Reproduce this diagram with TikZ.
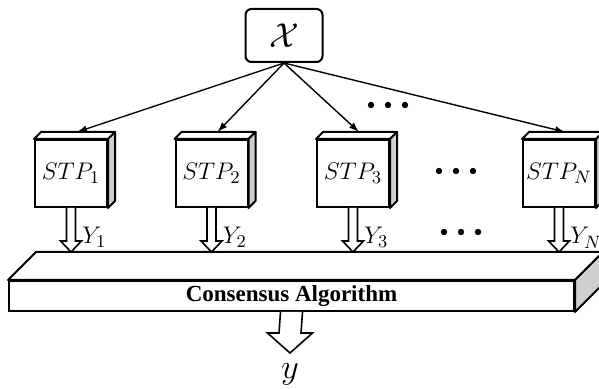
\documentclass[tikz,border=0pt]{standalone}
\usepackage[no-math]{fontspec}
\setmainfont{Liberation Serif}
\usepackage{xcolor}
\usetikzlibrary{calc,positioning,arrows.meta}
\definecolor{sidegrey}{HTML}{CFCFCF}
\tikzset{
  inbox/.style     = {draw, line width=1pt, rounded corners=3pt, fill=white,
                      minimum width=38.5pt, minimum height=26.5pt, inner sep=0pt,
                      font=\fontsize{16}{18}\selectfont},
  stpbox/.style    = {draw, line width=1pt, fill=white, inner sep=0pt,
                      minimum width=36pt, minimum height=33.5pt,
                      font=\fontsize{12.5}{15}\selectfont},
  barbox/.style    = {draw, line width=1pt, fill=white, inner sep=0pt,
                      minimum width=282.5pt, minimum height=15pt,
                      font=\fontsize{11.5}{13}\selectfont\bfseries},
  face/.style      = {draw, line width=1pt, line join=round, fill=white},
  feed/.style      = {-{Latex[length=5pt,width=3.5pt]}, line width=0.7pt},
  hollowarr/.style = {draw, line width=0.8pt, fill=white},
  ylbl/.style      = {font=\fontsize{13}{15}\selectfont, inner sep=0pt, anchor=base west},
}
% #1 top, #2 tip, #3 half shaft, #4 half head, #5 head length (px)
\newcommand{\fatarrow}[5]{%
  \draw[hollowarr] ($(#1)+(-#3,0)$) -- ($(#2)+(-#3,-#5)$) -- ($(#2)+(-#4,-#5)$)
    -- (#2) -- ($(#2)+(#4,-#5)$) -- ($(#2)+(#3,-#5)$) -- ($(#1)+(#3,0)$);}

\begin{document}
\begin{tikzpicture}[x=0.5pt, y=-0.5pt]
    \useasboundingbox (0,0) rectangle (599,389);

    % input
    \node[inbox] (xin) at (284,35.5) {$\mathcal{X}$};

    % consensus bar
    \node[barbox] (bar) at (291.5,296) {Consensus Algorithm};
    \draw[face] (bar.north west) -- ++(28,-28) -- ($(bar.north east)+(28,-28)$)
      -- (bar.north east) -- cycle;
    \draw[face, fill=sidegrey] (bar.north east) -- ++(28,-28)
      -- ($(bar.south east)+(28,-28)$) -- (bar.south east) -- cycle;
    \coordinate (barback) at ($(bar.north)+(0,-28)$);

    % stp boxes
    \foreach \xx/\i in {71/1, 211.5/2, 353/3, 559/N}
      {\node[stpbox] (s\i) at (\xx,173.5) {$STP_{\i}$};
       \draw[face] (s\i.north west) -- ++(7,-7) -- ($(s\i.north east)+(7,-7)$)
         -- (s\i.north east) -- cycle;
       \draw[face, fill=sidegrey] (s\i.north east) -- ++(7,-7)
         -- ($(s\i.south east)+(7,-7)$) -- (s\i.south east) -- cycle;
       \coordinate (t\i) at ($(s\i.north)+(6,-7)$);
       \draw[feed] (xin.south) -- (t\i);
       \coordinate (y\i) at (s\i.south |- barback);
       \fatarrow{s\i.south}{y\i}{4.5}{10.5}{11}
       \node[ylbl] (l\i) at ($(y\i)+(11,-8)$) {$Y_{\i}$};}

    % dots
    \foreach \cx/\cy in {388/105, 456/171, 461/232}
      \foreach \dx in {-17,0,17}
        \fill ($(\cx,\cy)+(\dx,0)$) circle (1.6pt);

    % output
    \coordinate (ytip) at ($(bar.south)+(-1.5,41)$);
    \fatarrow{bar.south}{ytip}{11}{22.5}{20}
    \node[font=\fontsize{19}{21}\selectfont, inner sep=0pt, anchor=base] (yout)
      at ($(ytip)+(0,26)$) {$y$};
\end{tikzpicture}
\end{document}
